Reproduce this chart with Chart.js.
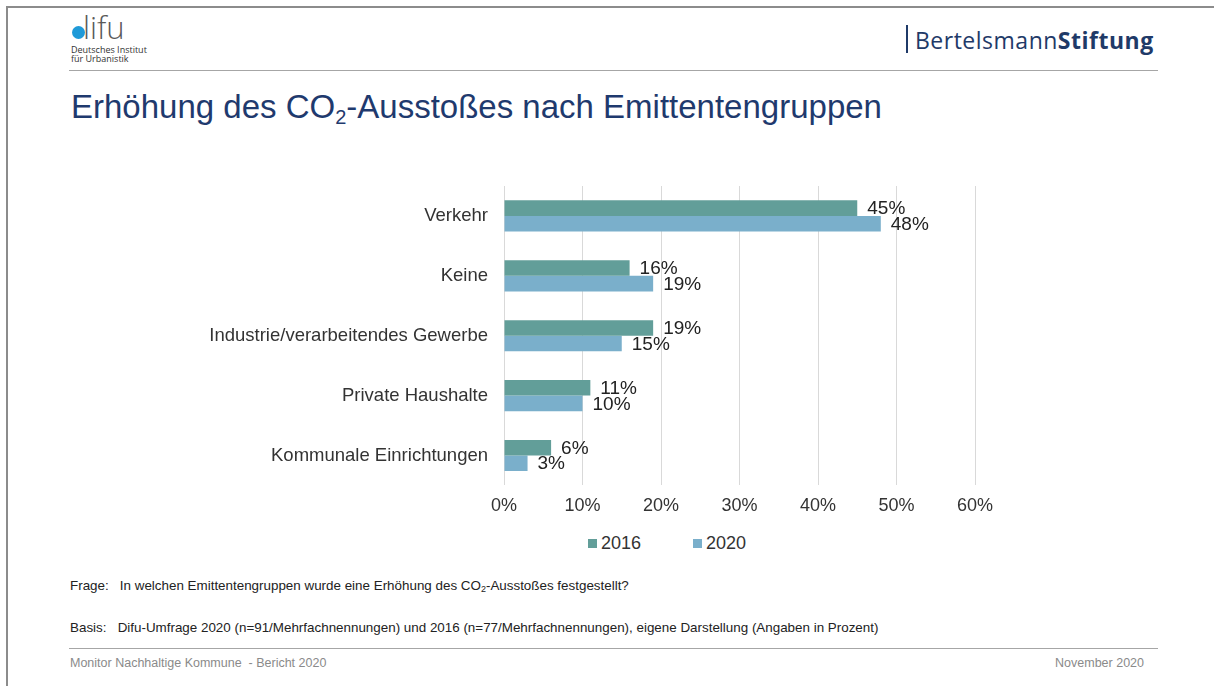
<!DOCTYPE html>
<html lang="de">
<head>
<meta charset="utf-8">
<title>Erhöhung des CO2-Ausstoßes nach Emittentengruppen</title>
<script src="https://cdn.jsdelivr.net/npm/chart.js@4.4.1/dist/chart.umd.min.js"></script>
<style>
  html, body { margin: 0; padding: 0; background: #fff; }
  body { width: 1214px; height: 686px; position: relative; overflow: hidden;
         font-family: "Liberation Sans", Arial, sans-serif; }
  .abs { position: absolute; white-space: nowrap; }
  .border-top { left: 6px; top: 6px; width: 1214px; height: 2px; background: #8c8c8c; }
  .border-left { left: 6px; top: 6px; width: 2px; height: 686px; background: #8c8c8c; }
  .rule { left: 69px; width: 1089px; height: 1px; background: #a6a6a6; }
  .dot { left: 72px; top: 26px; width: 13px; height: 13px; border-radius: 50%; background: #1f9ad8; }
  .lifu { left: 83px; top: 10px; font-size: 31px; color: #5a5a5a; font-family: "Open Sans", sans-serif; font-weight: 300; line-height: 34px; }
  .inst { left: 71px; top: 45px; font-size: 9px; line-height: 9px; color: #333; font-family: "Open Sans", sans-serif; }
  .bs-bar { left: 906px; top: 25px; width: 2px; height: 28px; background: #1f3a68; }
  .bs { left: 915px; top: 25px; font-size: 23px; letter-spacing: 0.5px; color: #1f3a68; font-family: "Open Sans", Lato, sans-serif; line-height: 30px; }
  .bs b { font-weight: 700; }
  h1 { position: absolute; left: 71px; top: 89px; margin: 0; font-weight: normal;
       font-size: 33px; line-height: 36px; color: #1f3a6e; white-space: nowrap; }
  h1 sub { font-size: 20px; vertical-align: -6px; line-height: 0; }
  .note { left: 70px; font-size: 13.4px; color: #222; }
  .note sub { font-size: 9px; vertical-align: -2px; line-height: 0; }
  .foot { top: 656px; font-size: 12.5px; color: #8a8a8a; }
  #chartBox { position: absolute; left: 180px; top: 170px; width: 976px; height: 357px; }
  #legend { position: absolute; top: 533px; left: 0; width: 1214px; height: 22px; }
  .lg-item { position: absolute; top: 0; font-size: 18px; line-height: 20px; color: #333; }
  .lg-box { position: absolute; top: 6px; width: 9px; height: 9px; }
</style>
</head>
<body>
<div class="abs border-top"></div>
<div class="abs border-left"></div>

<div class="abs dot"></div>
<div class="abs lifu">lifu</div>
<div class="abs inst">Deutsches Institut<br>für Urbanistik</div>
<div class="abs rule" style="top:70px"></div>

<div class="abs bs-bar"></div>
<div class="abs bs">Bertelsmann<b>Stiftung</b></div>

<h1>Erhöhung des CO<sub>2</sub>-Ausstoßes nach Emittentengruppen</h1>

<div id="chartBox"><canvas id="chart"></canvas></div>
<div id="legend"></div>

<div class="abs note" style="top:578px">Frage:&nbsp;&nbsp; In welchen Emittentengruppen wurde eine Erhöhung des CO<sub>2</sub>-Ausstoßes festgestellt?</div>
<div class="abs note" style="top:620px">Basis:&nbsp;&nbsp; Difu-Umfrage 2020 (n=91/Mehrfachnennungen) und 2016 (n=77/Mehrfachnennungen), eigene Darstellung (Angaben in Prozent)</div>
<div class="abs rule" style="top:648px"></div>
<div class="abs foot" style="left:70px">Monitor Nachhaltige Kommune&nbsp; - Bericht 2020</div>
<div class="abs foot" style="right:70px">November 2020</div>

<script>
const groups = [
  "Verkehr",
  "Keine",
  "Industrie/verarbeitendes Gewerbe",
  "Private Haushalte",
  "Kommunale Einrichtungen",
];
const years = ["2016", "2020"];
const values2016 = [45, 16, 19, 11, 6];
const values2020 = [48, 19, 15, 10, 3];
const colors = ["#629e99", "#7aafcb"];

const font = "'Liberation Sans', Arial, sans-serif";

// value labels to the right of each bar
const barLabels = {
  id: "barLabels",
  afterDatasetsDraw(chart) {
    const { ctx } = chart;
    ctx.save();
    ctx.font = "19px " + font;
    ctx.fillStyle = "#222";
    ctx.textAlign = "left";
    ctx.textBaseline = "middle";
    chart.data.datasets.forEach((ds, i) => {
      chart.getDatasetMeta(i).data.forEach((bar, j) => {
        ctx.fillText(ds.data[j] + "%", bar.x + 10, bar.y + 1);
      });
    });
    ctx.restore();
  },
};

new Chart(document.getElementById("chart"), {
  type: "bar",
  plugins: [barLabels],
  data: {
    labels: groups,
    datasets: [
      { label: years[0], data: values2016, backgroundColor: colors[0] },
      { label: years[1], data: values2020, backgroundColor: colors[1] },
    ],
  },
  options: {
    indexAxis: "y",
    animation: false,
    responsive: true,
    maintainAspectRatio: false,
    categoryPercentage: 0.52,
    barPercentage: 1,
    layout: { padding: { top: 16, right: 181, bottom: 0, left: 0 } },
    plugins: {
      legend: { display: false },
      tooltip: { enabled: false },
    },
    scales: {
      x: {
        min: 0,
        max: 60,
        ticks: {
          stepSize: 10,
          padding: 10,
          color: "#333",
          font: { family: font, size: 18 },
          callback: (v) => v + "%",
        },
        grid: { color: "#d9d9d9", drawTicks: false },
        border: { display: false },
      },
      y: {
        afterFit: (scale) => {
          scale.width = 324;
          scale.paddingTop = 0;
          scale.paddingBottom = 0;
        },
        ticks: {
          padding: 16,
          color: "#333",
          font: { family: font, size: 18.5 },
        },
        grid: { display: false, drawTicks: false },
        border: { display: false },
      },
    },
  },
});

// legend below the axis
const legend = document.getElementById("legend");
const legendX = [588, 693];
years.forEach((y, i) => {
  const box = document.createElement("div");
  box.className = "lg-box";
  box.style.left = legendX[i] + "px";
  box.style.background = colors[i];
  legend.appendChild(box);
  const txt = document.createElement("div");
  txt.className = "lg-item";
  txt.style.left = legendX[i] + 13 + "px";
  txt.textContent = y;
  legend.appendChild(txt);
});
</script>
</body>
</html>
